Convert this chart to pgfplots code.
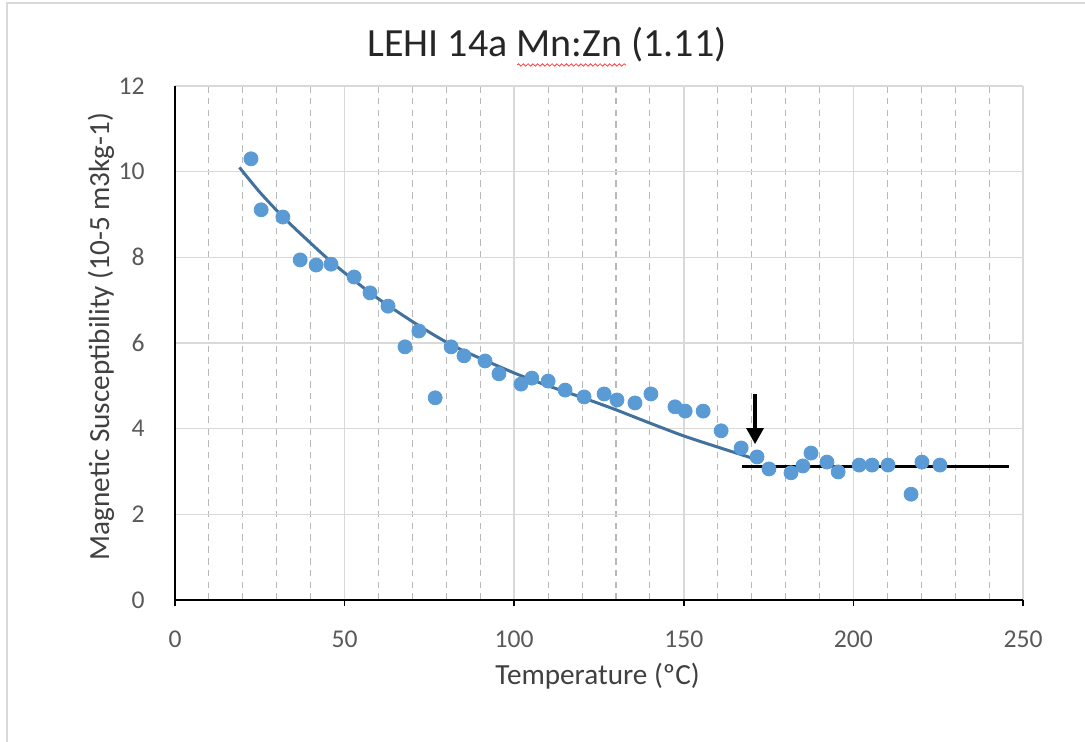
\documentclass[border=0pt]{standalone}
\usepackage{fontspec}
\setmainfont{Carlito}
\usepackage{pgfplots}
\pgfplotsset{compat=1.18}
\usetikzlibrary{arrows.meta,decorations.pathmorphing}

\definecolor{ptblue}{HTML}{5B9BD5}
\definecolor{trend}{HTML}{41719C}
\definecolor{gridmaj}{HTML}{D9D9D9}
\definecolor{gridmin}{HTML}{B8B8B8}
\definecolor{ticklab}{HTML}{595959}
\definecolor{labc}{HTML}{404040}
\definecolor{titlec}{HTML}{262626}

\begin{document}
\begin{tikzpicture}[x=0.5pt,y=0.5pt]
% outer chart frame (left and top edges visible)
\draw[gridmaj, line width=1pt] (7,-5) -- (7,739) -- (1090,739);

\begin{axis}[
  at={(87.5pt,71pt)}, anchor=south west,
  width=424pt, height=257pt, scale only axis,
  xmin=0, xmax=250, ymin=0, ymax=12,
  xtick={0,50,...,250}, ytick={0,2,...,12},
  minor x tick num=4,
  axis lines=left,
  axis line style={-, black, line width=1pt},
  grid=both,
  major grid style={gridmaj, line width=0.8pt},
  minor grid style={gridmin, line width=0.55pt, dash pattern=on 3.3pt off 2.6pt},
  tick align=outside,
  major tick length=3pt, minor tick length=0pt,
  xtick style={black, line width=0.8pt},
  ytick style={draw=none},
  /pgf/number format/assume math mode=true,
  ticklabel style={font=\fontsize{12.8}{15}\selectfont, text=ticklab},
  xticklabel style={anchor=base, inner sep=0pt, yshift=-21pt},
  yticklabel style={anchor=east, inner sep=0pt, xshift=-12pt},
  clip=false,
]
  % measured points
  \addplot[only marks, mark=*, mark size=3.5pt, mark options={fill=ptblue, draw=ptblue}] coordinates {
    (22.4,10.30) (25.4,9.11) (31.8,8.94) (36.9,7.94) (41.6,7.82) (46.0,7.84)
    (52.8,7.54) (57.5,7.17) (62.8,6.86) (67.8,5.91) (71.9,6.28) (76.7,4.72)
    (81.4,5.91) (85.2,5.70) (91.4,5.58) (95.5,5.28) (102.0,5.04) (105.2,5.18)
    (110.0,5.11) (115.0,4.90) (120.6,4.74) (126.5,4.81) (130.3,4.67) (135.6,4.60)
    (140.3,4.81) (147.4,4.51) (150.4,4.41) (155.7,4.41) (161.0,3.95) (166.9,3.55)
    (171.6,3.34) (175.1,3.06) (181.6,2.97) (185.1,3.13) (187.5,3.43) (192.2,3.22)
    (195.5,2.99) (201.7,3.15) (205.5,3.15) (210.2,3.15) (217.0,2.47) (220.2,3.22)
    (225.5,3.15)
  };
  % trend line
  \addplot[trend, line width=1.5pt, smooth] coordinates {
    (19,10.10) (25,9.52) (32,8.93) (40,8.33) (46,7.90) (53,7.45) (60,7.03)
    (70,6.50) (78,6.11) (85,5.82) (100,5.30) (110,5.00) (121,4.70) (130,4.44)
    (140,4.13) (150,3.83) (160,3.57) (173,3.24)
  };
  % plateau line
  \addplot[black, line width=1.5pt] coordinates {(167.1,3.12) (246.0,3.12)};
  % transition arrow
  \addplot[black, line width=1.6pt, -{Triangle[width=8.5pt,length=8pt]}] coordinates {(171,4.80) (171,3.64)};
\end{axis}

% title with spell-check underline
\node[anchor=base, font=\fontsize{20}{24}\selectfont, text=titlec] at (547,685) {LEHI 14a Mn:Zn (1.11)};
\draw[red!75, line width=0.4pt, decorate, decoration={snake, amplitude=0.6pt, segment length=2.4pt}] (517,677) -- (626,677);

% axis titles
\node[anchor=base, font=\fontsize{14.6}{17}\selectfont, text=labc] at (597.5,57) {Temperature (ºC)};
\node[rotate=90, anchor=base, font=\fontsize{14.6}{17}\selectfont, text=labc] at (109,405.5) {Magnetic Susceptibility (10-5 m3kg-1)};

\pgfresetboundingbox
\useasboundingbox (0,0) rectangle (1085,742);
\end{tikzpicture}
\end{document}
